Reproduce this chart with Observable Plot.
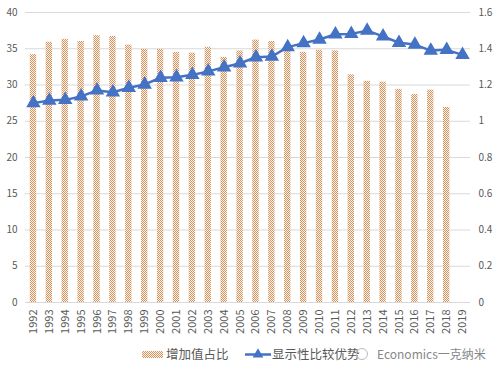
<!DOCTYPE html>
<html><head><meta charset="utf-8">
<script src="https://cdn.jsdelivr.net/npm/d3@7"></script>
<script src="https://cdn.jsdelivr.net/npm/@observablehq/plot@0.6"></script>
<style>
body{margin:0;background:#fff;font-family:"Noto Sans CJK SC","Noto Sans",sans-serif}
#wrap{position:relative;width:499px;height:374px;overflow:hidden}
#legend{position:absolute;left:0;top:340px;width:499px;height:30px}
</style></head><body><div id="wrap"><div id="chart"></div><div id="legend"></div></div>
<script>
const years = ["1992","1993","1994","1995","1996","1997","1998","1999","2000","2001","2002","2003","2004","2005","2006","2007","2008","2009","2010","2011","2012","2013","2014","2015","2016","2017","2018","2019"];
// 增加值占比 (left axis, %), 1992-2018
const shareValues = [34.2,35.9,36.3,36.0,36.8,36.7,35.5,34.9,34.9,34.5,34.4,35.2,33.8,34.7,36.2,36.0,35.2,34.5,34.8,34.7,31.4,30.5,30.4,29.4,28.7,29.3,26.9];
// 显示性比较优势 (right axis), 1992-2019
const rcaValues = [1.10,1.114,1.118,1.137,1.17,1.16,1.185,1.203,1.24,1.243,1.256,1.275,1.298,1.32,1.353,1.357,1.409,1.431,1.451,1.48,1.482,1.50,1.468,1.433,1.423,1.39,1.394,1.366];
const leftTicks = [0,5,10,15,20,25,30,35,40];
const rightTicks = [0,0.2,0.4,0.6,0.8,1.0,1.2,1.4,1.6];
const seriesNames = ["增加值占比","显示性比较优势"];
const watermark = "Economics一克纳米";

const K = 40 / 1.6; // right axis to left axis
const barData = shareValues.map((v, i) => ({year: years[i], value: v}));
const lineData = rcaValues.map((v, i) => ({year: years[i], value: v * K}));

const textColor = "#595959";
const blue = "#4472C4";
const patternHTML = id => `<pattern id="${id}" width="2" height="2" patternUnits="userSpaceOnUse">
     <rect width="2" height="2" fill="#fdf6f0"/>
     <rect x="0" y="0" width="1" height="1" fill="#d6915c"/>
     <rect x="1" y="1" width="1" height="1" fill="#d6915c"/>
   </pattern>`;

const plot = Plot.plot({
  width: 499,
  height: 340,
  marginTop: 12,
  marginBottom: 38,
  marginLeft: 25,
  marginRight: 29,
  style: {fontFamily: '"Noto Sans CJK SC","Noto Sans",sans-serif', fontSize: "10px", color: textColor, background: "#fff"},
  x: {domain: years, paddingInner: 0.6, paddingOuter: 0.3, round: false, label: null},
  y: {domain: [0, 40], label: null},
  marks: [
    Plot.ruleY(leftTicks, {stroke: "#D9D9D9", strokeWidth: 1}),
    Plot.barY(barData, {x: "year", y: "value", fill: "url(#hatch)"}),
    Plot.axisX({tickSize: 0, tickPadding: 7, tickRotate: -90, fontSize: 11, fill: textColor}),
    Plot.axisY(leftTicks, {anchor: "left", tickSize: 0, tickPadding: 8, fill: textColor}),
    Plot.axisY(rightTicks.map(t => t * K), {anchor: "right", tickSize: 0, tickPadding: 8, fill: textColor,
      tickFormat: d => String(+(d / K).toFixed(1))}),
    Plot.lineY(lineData, {x: "year", y: "value", stroke: blue, strokeWidth: 2.5}),
    Plot.dot(lineData, {x: "year", y: "value", symbol: "triangle", r: 4.4, fill: blue, stroke: blue})
  ]
});
d3.select(plot).insert("defs", ":first-child").html(patternHTML("hatch"));
document.getElementById("chart").appendChild(plot);

// legend
const leg = d3.select("#legend").append("svg").attr("width", 499).attr("height", 30)
  .style("font-family", '"Noto Sans CJK SC","Noto Sans",sans-serif');
leg.append("defs").html(patternHTML("hatch2"));
leg.append("rect").attr("x", 142).attr("y", 11).attr("width", 21).attr("height", 7).attr("fill", "url(#hatch2)");
leg.append("text").attr("x", 166).attr("y", 19).attr("font-size", 12.5).attr("fill", textColor).text(seriesNames[0]);
leg.append("line").attr("x1", 245).attr("x2", 271).attr("y1", 14.5).attr("y2", 14.5).attr("stroke", blue).attr("stroke-width", 2.5);
leg.append("path").attr("d", d3.symbol(d3.symbolTriangle, 50)()).attr("transform", "translate(258,14.5)").attr("fill", blue);
leg.append("text").attr("x", 272).attr("y", 19).attr("font-size", 12.5).attr("fill", textColor).text(seriesNames[1]);
leg.append("circle").attr("cx", 362).attr("cy", 14).attr("r", 5.5).attr("fill", "none").attr("stroke", "#bbb").attr("stroke-width", 1);
leg.append("text").attr("x", 377).attr("y", 19).attr("font-size", 12).attr("fill", "#888").text(watermark);
</script>
</body></html>
